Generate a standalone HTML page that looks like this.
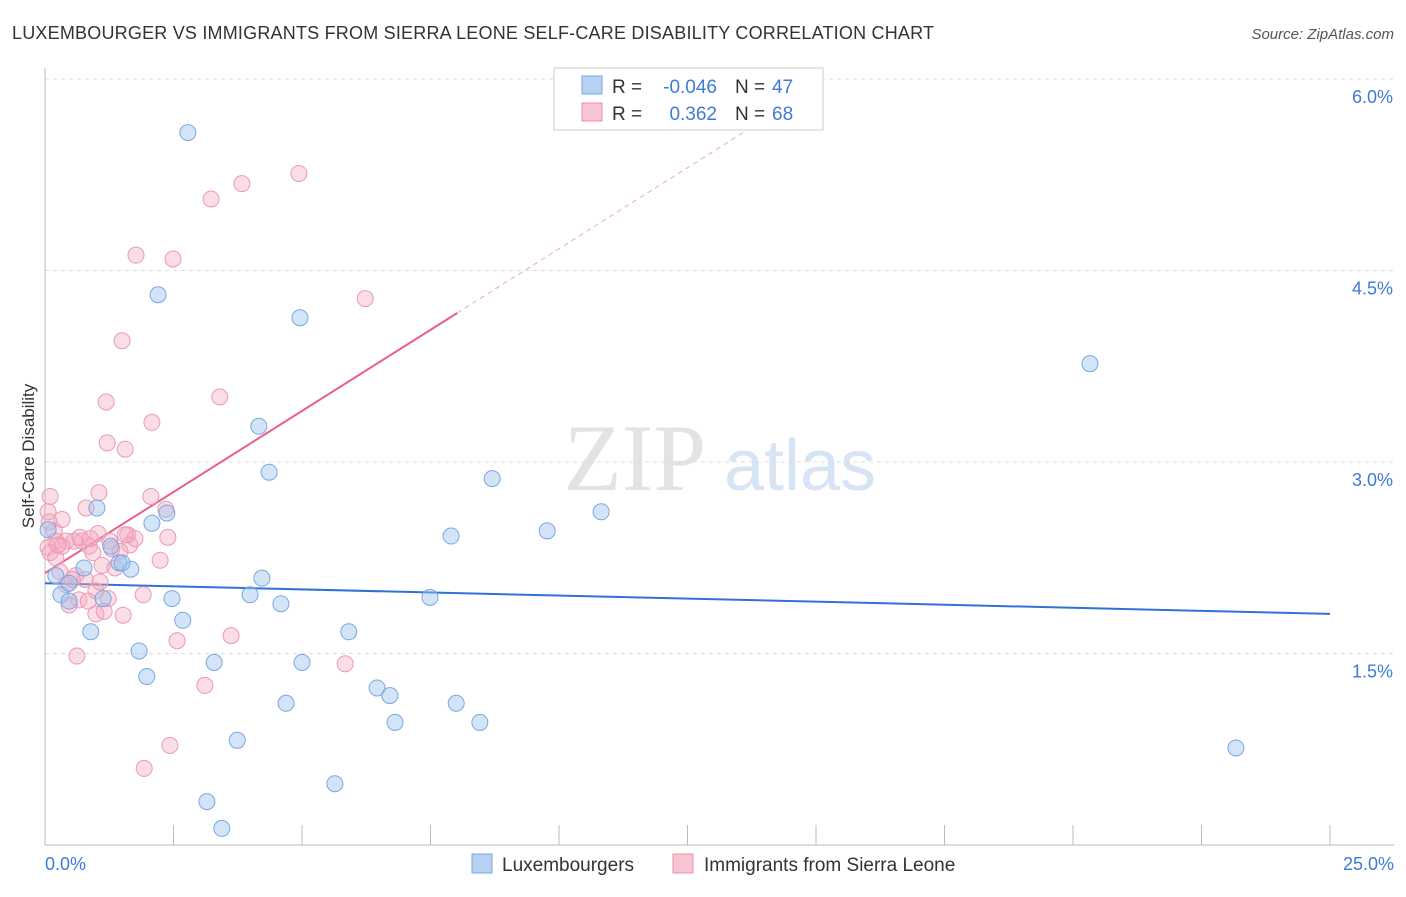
<!DOCTYPE html>
<html><head><meta charset="utf-8"><style>
body{margin:0;background:#fff;font-family:"Liberation Sans",sans-serif}
</style></head><body>
<svg width="1406" height="892" xmlns="http://www.w3.org/2000/svg" id="chart">
<text x="12" y="39" font-size="18" fill="#333" textLength="922">LUXEMBOURGER VS IMMIGRANTS FROM SIERRA LEONE SELF-CARE DISABILITY CORRELATION CHART</text>
<text x="1394" y="39" font-size="15" fill="#555" text-anchor="end" font-style="italic">Source: ZipAtlas.com</text>
<text x="0" y="0" transform="translate(34,456) rotate(-90)" font-size="17" fill="#333" text-anchor="middle">Self-Care Disability</text>
<g><text x="635" y="490" font-size="95" fill="#e3e3e3" font-family="Liberation Serif,serif" text-anchor="middle">ZIP</text><text x="800" y="490" font-size="72" fill="#d6e4f4" text-anchor="middle">atlas</text></g>
<g id="grid"></g><g id="axes"></g><g id="lines"></g><g id="pts"></g>
<g>
<rect x="554" y="68" width="269" height="62" fill="#fff" stroke="#ccc"/>
<rect x="582" y="76" width="20" height="18" fill="#b7d1f3" stroke="#7aa7e0"/>
<rect x="582" y="103" width="20" height="18" fill="#f7c4d2" stroke="#e891ad"/>
<text x="612" y="93" font-size="19" fill="#333">R =</text>
<text x="717" y="93" font-size="19" fill="#3f7bd6" text-anchor="end">-0.046</text>
<text x="735" y="93" font-size="19" fill="#333">N =</text>
<text x="772" y="93" font-size="19" fill="#3f7bd6">47</text>
<text x="612" y="120" font-size="19" fill="#333">R =</text>
<text x="717" y="120" font-size="19" fill="#3f7bd6" text-anchor="end">0.362</text>
<text x="735" y="120" font-size="19" fill="#333">N =</text>
<text x="772" y="120" font-size="19" fill="#3f7bd6">68</text>
</g>
<g>
<rect x="472" y="854" width="20" height="19" fill="#b7d1f3" stroke="#7aa7e0"/>
<text x="502" y="871" font-size="19" fill="#333">Luxembourgers</text>
<rect x="673" y="854" width="20" height="19" fill="#f7c4d2" stroke="#e891ad"/>
<text x="704" y="871" font-size="19" fill="#333">Immigrants from Sierra Leone</text>
</g>
</svg>
<script>
const yTicks=[1.5,3.0,4.5,6.0];
const xTickLabels=["0.0%","25.0%"];
const luxX=[2.78,2.20,4.96,20.33,4.16,4.36,8.70,1.01,2.37,2.08,10.82,9.77,7.90,0.06,1.28,1.44,1.67,0.76,0.21,4.22,1.50,0.31,0.47,1.13,2.47,3.99,4.59,7.49,2.68,0.89,5.91,1.83,3.29,5.00,1.98,6.46,6.71,4.69,8.00,6.81,8.46,3.74,23.17,5.64,3.15,3.44,0.47];
const luxY=[5.58,4.31,4.13,3.77,3.28,2.92,2.87,2.64,2.60,2.52,2.61,2.46,2.42,2.47,2.34,2.21,2.16,2.17,2.11,2.09,2.21,1.96,1.91,1.93,1.93,1.96,1.89,1.94,1.76,1.67,1.67,1.52,1.43,1.43,1.32,1.23,1.17,1.11,1.11,0.96,0.96,0.82,0.76,0.48,0.34,0.13,2.05];
const slX=[4.94,3.83,3.23,1.77,2.49,6.23,1.50,1.19,3.40,2.08,1.21,1.56,0.10,1.05,2.06,0.06,0.80,2.35,0.33,0.18,1.03,1.61,2.39,0.21,0.41,0.56,0.72,0.33,0.86,0.06,1.65,1.30,0.10,1.46,2.24,0.21,0.93,1.11,1.36,0.29,0.60,0.78,0.41,0.99,1.91,0.66,0.84,1.23,0.47,0.99,1.15,1.52,3.62,2.57,0.62,5.84,3.11,2.43,1.93,0.08,0.68,1.26,1.75,1.56,0.53,1.07,0.25,0.88];
const slY=[5.26,5.18,5.06,4.62,4.59,4.28,3.95,3.47,3.51,3.31,3.15,3.10,2.73,2.76,2.73,2.61,2.64,2.63,2.55,2.46,2.44,2.43,2.41,2.38,2.38,2.38,2.38,2.34,2.34,2.33,2.35,2.32,2.29,2.30,2.23,2.25,2.29,2.19,2.17,2.14,2.11,2.08,2.04,1.99,1.96,1.92,1.91,1.93,1.88,1.81,1.83,1.80,1.64,1.60,1.48,1.42,1.25,0.78,0.60,2.53,2.41,2.38,2.40,2.43,2.08,2.06,2.35,2.40];
const luxTrend=[2.05,1.81];
const slTrend=[2.13,0.254];
const NS="http://www.w3.org/2000/svg";
const X=v=>45+v/25*1285, Y=v=>845-v*127.67;
function mk(p,t,a){const e=document.createElementNS(NS,t);for(const k in a)e.setAttribute(k,a[k]);document.getElementById(p).appendChild(e);return e;}
yTicks.forEach(t=>{
 const l=mk('grid','line',{x1:45,x2:1394,y1:Y(t),y2:Y(t),stroke:'#ddd','stroke-dasharray':'4,4'});
 
 
 const tx=mk('grid','text',{x:1393,y:Y(t)+24,'font-size':18,fill:'#3f7bd6','text-anchor':'end'});tx.textContent=t.toFixed(1)+'%';
 
 
});
mk('axes','line',{x1:45,x2:45,y1:68,y2:845,stroke:'#bbb'});
mk('axes','line',{x1:45,x2:1394,y1:845,y2:845,stroke:'#bbb'});
for(let i=0;i<=10;i++){mk('axes','line',{x1:X(i*2.5),x2:X(i*2.5),y1:825,y2:845,stroke:'#bbb'});}
const xl=mk('axes','text',{x:45,y:870,'font-size':18,fill:'#3f7bd6'});xl.textContent=xTickLabels[0];


const xr=mk('axes','text',{x:1394,y:870,'font-size':18,fill:'#3f7bd6','text-anchor':'end'});xr.textContent=xTickLabels[1];


slX.forEach((x,i)=>{const c=mk('pts','circle',{cx:X(x),cy:Y(slY[i]),r:8,fill:'rgba(244,170,192,0.4)',stroke:'#ea9ab4','stroke-width':1});
 
 });
luxX.forEach((x,i)=>{const c=mk('pts','circle',{cx:X(x),cy:Y(luxY[i]),r:8,fill:'rgba(160,195,240,0.45)',stroke:'#7aa7e0','stroke-width':1});
 
 });
const bl=mk('lines','line',{x1:X(0),y1:Y(luxTrend[0]),x2:X(25),y2:Y(luxTrend[1]),stroke:'#2f72d6','stroke-width':2});


const pl=mk('lines','line',{x1:X(0),y1:Y(slTrend[0]),x2:X(8.02),y2:Y(slTrend[0]+slTrend[1]*8.02),stroke:'#e8608a','stroke-width':2});


const pd=mk('lines','line',{x1:X(8.02),y1:Y(slTrend[0]+slTrend[1]*8.02),x2:X(15),y2:Y(slTrend[0]+slTrend[1]*15),stroke:'#eeaabf','stroke-width':1,'stroke-dasharray':'5,4'});


</script>
</body></html>
